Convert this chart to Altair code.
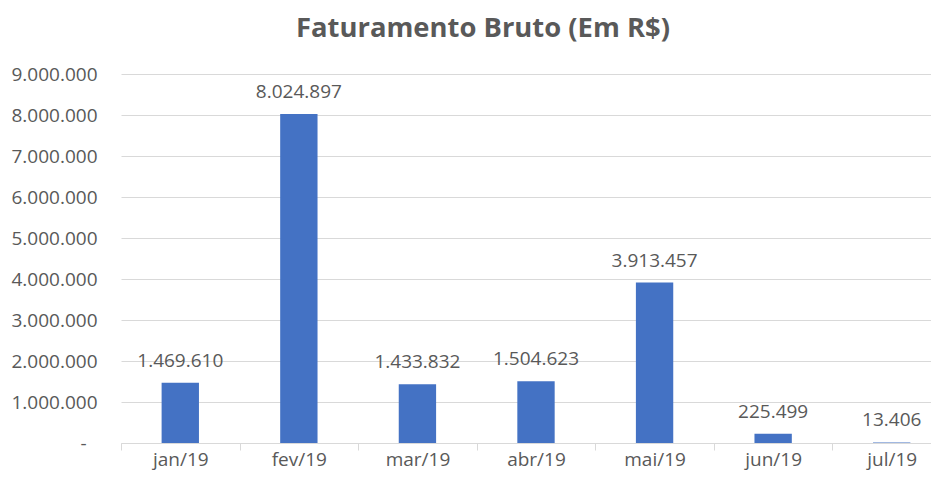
import altair as alt
import pandas as pd

months = ["jan/19", "fev/19", "mar/19", "abr/19", "mai/19", "jun/19", "jul/19"]
values = [1469610, 8024897, 1433832, 1504623, 3913457, 225499, 13406]
y_ticks = [0, 1000000, 2000000, 3000000, 4000000, 5000000, 6000000, 7000000, 8000000, 9000000]

df = pd.DataFrame({"mes": months, "valor": values})
df["rotulo"] = [f"{v:,}".replace(",", ".") for v in values]

TXT = "#595959"
GRID = "#D9D9D9"
FONT = "Open Sans"
FULL = 830
STEP = FULL / 7

x = alt.X(
    "mes:N",
    sort=months,
    title=None,
    scale=alt.Scale(range=[0, FULL], paddingInner=0.685, paddingOuter=0.3425),
    axis=alt.Axis(
        labelAngle=0,
        labelFont=FONT,
        labelFontSize=19,
        labelColor=TXT,
        labelPadding=0,
        domainColor=GRID,
        tickColor=GRID,
        tickSize=7,
        bandPosition=0.5,
        tickOffset=-STEP / 2,
        labelOffset=STEP / 2,
        grid=False,
    ),
)

y = alt.Y(
    "valor:Q",
    title=None,
    scale=alt.Scale(domain=[0, 9000000], nice=False),
    axis=alt.Axis(
        values=y_ticks,
        labelExpr="datum.value == 0 ? '-' : replace(format(datum.value, ',d'), /,/g, '.')",
        labelFont=FONT,
        labelFontSize=19,
        labelColor=TXT,
        labelPadding={"condition": {"test": "datum.value == 0", "value": 35}, "value": 24},
        ticks=False,
        domain=False,
        gridColor=GRID,
        gridWidth=1,
    ),
)

bars = alt.Chart(df).mark_bar(color="#4472C4").encode(x=x, y=y)
labels = alt.Chart(df).mark_text(
    baseline="alphabetic", dy=-16, font=FONT, fontSize=19, color=TXT
).encode(x=alt.X("mes:N", sort=months), y="valor:Q", text="rotulo:N")

chart = (
    alt.layer(bars, labels)
    .properties(
        width=810,
        height=369,
        autosize=alt.AutoSizeParams(type="none"),
        padding={"left": 113, "top": 66, "right": 0, "bottom": 28},
        title=alt.TitleParams(
            "Faturamento Bruto (Em R$)",
            font=FONT,
            fontSize=27.4,
            fontWeight="bold",
            color=TXT,
            anchor="middle",
            dx=-43,
            offset=23,
        ),
    )
    .configure_view(stroke=None)
)

chart.save("out.html", embed_options={"renderer": "svg", "actions": False})
